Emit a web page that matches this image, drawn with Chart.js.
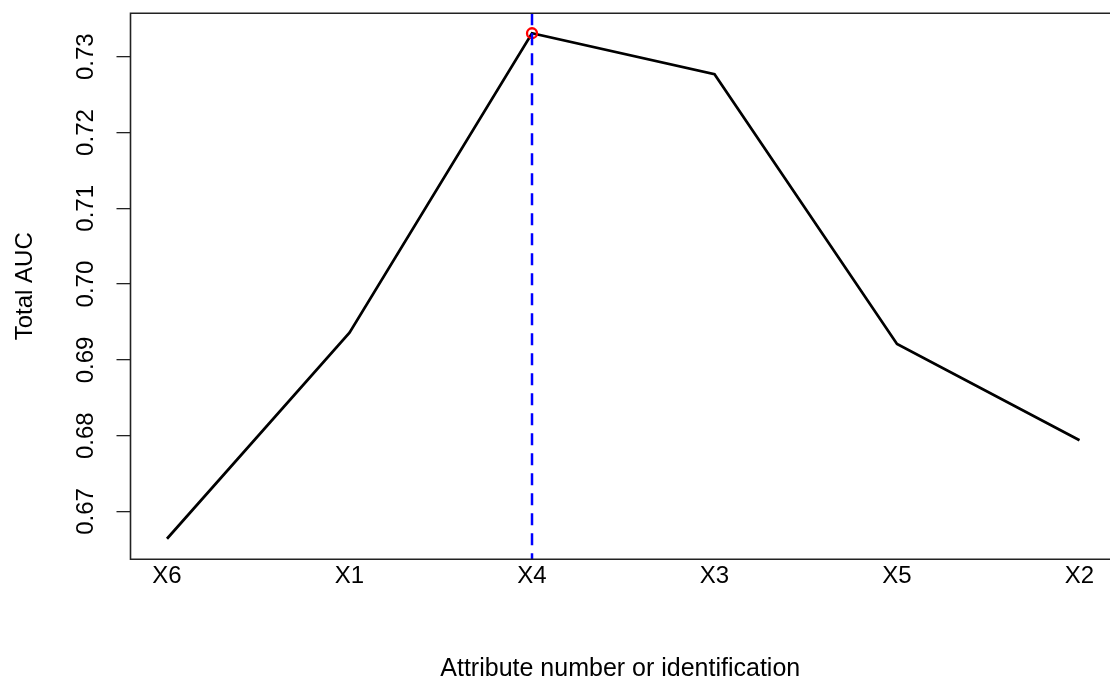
<!DOCTYPE html>
<html>
<head>
<meta charset="utf-8">
<script src="https://cdn.jsdelivr.net/npm/chart.js@4/dist/chart.umd.min.js"></script>
<style>
  html, body { margin: 0; padding: 0; background: #ffffff; }
  #wrap { width: 1110px; height: 682px; }
  canvas { display: block; }
</style>
</head>
<body>
<div id="wrap"><canvas id="c" width="1110" height="682"></canvas></div>
<script>
// ---- data ----
const categories = ['X6', 'X1', 'X4', 'X3', 'X5', 'X2'];
const totalAUC = [0.6664, 0.6936, 0.7331, 0.7277, 0.6921, 0.6794];
const yTickValues = [0.67, 0.68, 0.69, 0.70, 0.71, 0.72, 0.73];
const bestIndex = 2;
const yTitle = 'Total AUC';
const xTitle = 'Attribute number or identification';

const FONT = '"Liberation Sans", Arial, sans-serif';

const lineData = categories.map((c, i) => ({ x: i + 1, y: totalAUC[i] }));
const bestData = [{ x: bestIndex + 1, y: totalAUC[bestIndex] }];

const boxPlugin = {
  id: 'boxAndLabels',
  afterDatasetsDraw(chart) {
    const { ctx, chartArea: a, scales } = chart;
    // dashed vertical line at the best attribute
    const xb = scales.x.getPixelForValue(bestIndex + 1);
    ctx.save();
    ctx.strokeStyle = '#0000ff';
    ctx.lineWidth = 2.5;
    ctx.setLineDash([12, 8]);
    ctx.beginPath();
    ctx.moveTo(xb, a.top);
    ctx.lineTo(xb, a.bottom);
    ctx.stroke();
    ctx.restore();
  },
  afterDraw(chart) {
    const { ctx, chartArea: a, scales } = chart;
    ctx.save();
    // plot box; its right side lies just beyond the canvas edge
    ctx.strokeStyle = '#222';
    ctx.lineWidth = 1.6;
    ctx.beginPath();
    ctx.moveTo(a.right + 10, a.top);
    ctx.lineTo(a.left, a.top);
    ctx.lineTo(a.left, a.bottom);
    ctx.lineTo(a.right + 10, a.bottom);
    ctx.stroke();
    // y tick labels, parallel to the axis
    ctx.fillStyle = '#000';
    ctx.font = '24px ' + FONT;
    ctx.textAlign = 'center';
    ctx.textBaseline = 'middle';
    scales.y.ticks.forEach(t => {
      const y = scales.y.getPixelForValue(t.value);
      ctx.save();
      ctx.translate(86, y);
      ctx.rotate(-Math.PI / 2);
      ctx.fillText(t.value.toFixed(2), 0, 0);
      ctx.restore();
    });
    ctx.restore();
  }
};

new Chart(document.getElementById('c'), {
  type: 'line',
  data: {
    datasets: [
      { data: bestData, showLine: false, pointRadius: 5, pointBorderWidth: 2.3, pointBorderColor: '#ff0000', pointBackgroundColor: 'rgba(0,0,0,0)', order: 0 },
      { data: lineData, borderColor: '#000000', borderWidth: 2.7, pointRadius: 0, tension: 0, fill: false, order: 1 }
    ]
  },
  options: {
    responsive: false,
    animation: false,
    devicePixelRatio: 1,
    layout: { autoPadding: false, padding: { top: 13.3, right: 0, bottom: 0, left: 0 } },
    plugins: { legend: { display: false }, tooltip: { enabled: false } },
    scales: {
      x: {
        type: 'linear', min: 0.8, max: 6.167,
        afterBuildTicks: s => { s.ticks = categories.map((c, i) => ({ value: i + 1 })); },
        afterFit: s => { s.height = 122.7; s.paddingLeft = 0; s.paddingRight = 0; },
        grid: { display: false, drawTicks: false },
        border: { display: false },
        ticks: { autoSkip: false, maxRotation: 0, padding: 3, color: '#000', font: { family: FONT, size: 24 }, callback: v => categories[Math.round(v) - 1] },
        title: { display: true, text: xTitle, color: '#000', font: { family: FONT, size: 25, lineHeight: 1.05 }, padding: { top: 0, bottom: 0 } }
      },
      y: {
        min: 0.66369, max: 0.73573,
        afterBuildTicks: s => { s.ticks = yTickValues.map(v => ({ value: v })); },
        afterFit: s => { s.width = 130.5; },
        grid: { display: true, drawOnChartArea: false, drawTicks: true, tickLength: 14, color: '#222', lineWidth: 1.3 },
        border: { display: false },
        ticks: { display: false },
        title: { display: true, text: yTitle, color: '#000', font: { family: FONT, size: 24, lineHeight: 1.2 }, padding: { top: 10.5, bottom: 0 } }
      }
    }
  },
  plugins: [boxPlugin]
});
</script>
</body>
</html>
